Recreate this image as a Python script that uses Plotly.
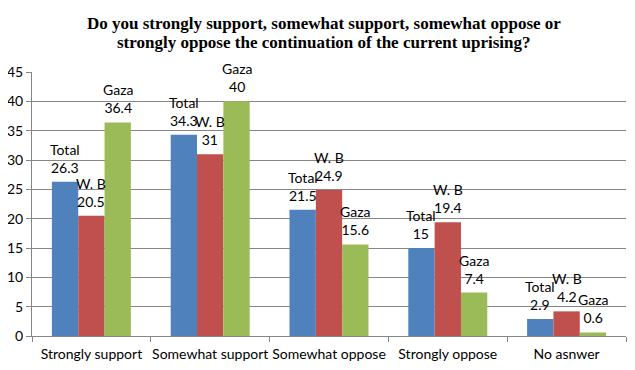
import plotly.graph_objects as go

categories = ["Strongly support", "Somewhat support", "Somewhat oppose", "Strongly oppose", "No asnwer"]
series_names = ["Total", "W. B", "Gaza"]
total_vals = [26.3, 34.3, 21.5, 15, 2.9]
wb_vals = [20.5, 31, 24.9, 19.4, 4.2]
gaza_vals = [36.4, 40, 15.6, 7.4, 0.6]
y_ticks = [0, 5, 10, 15, 20, 25, 30, 35, 40, 45]

colors = ["#4F81BD", "#C0504D", "#9BBB59"]
title_lines = ["Do you strongly support, somewhat support, somewhat oppose or",
               "strongly oppose the continuation of the current uprising?"]

# page body has an 8px default margin, so the figure is 8px smaller
W, H = 627, 362
L, R, T, B = 24, 9, 64, 34
plot_w = W - L - R
plot_h = H - T - B
BARGAP = 0.335

# pixel width of one bar (for placing labels over each bar of a group)
bar_px = plot_w / len(categories) * (1 - BARGAP) / len(series_names)

label_font = dict(family="Lato, Liberation Sans, sans-serif", size=14, color="#000000")

fig = go.Figure()
all_vals = [total_vals, wb_vals, gaza_vals]
for i, (name, vals, col) in enumerate(zip(series_names, all_vals, colors)):
    fig.add_trace(go.Bar(
        x=categories, y=vals, name=name, marker_color=col,
        marker_line_width=0,
    ))
    for cat, v in zip(categories, vals):
        fig.add_annotation(
            x=cat, y=v, xref="x", yref="y",
            text=f"{name}<br>{v:g}", showarrow=False,
            xanchor="center", yanchor="bottom",
            xshift=(i - 1) * bar_px, yshift=4,
            font=label_font,
        )

# title as two annotations for tighter line spacing
for line, py in zip(title_lines, [15, 34]):
    fig.add_annotation(
        text=f"<b>{line}</b>", xref="paper", yref="paper",
        x=0.5, y=1 + (T - py) / plot_h, xanchor="center", yanchor="middle",
        xshift=-5, showarrow=False,
        font=dict(family="Liberation Serif, serif", size=17, color="#000000"),
    )

fig.update_layout(
    width=W, height=H,
    margin=dict(l=L, r=R, t=T, b=B, autoexpand=False),
    paper_bgcolor="white", plot_bgcolor="white",
    barmode="group", bargap=BARGAP, bargroupgap=0,
    showlegend=False,
    font=dict(family="Lato, Liberation Sans, sans-serif", size=14, color="#000000"),
)
fig.update_xaxes(
    tickangle=0, tickson="boundaries", ticks="outside", ticklen=5, tickcolor="#868686",
    showline=True, linecolor="#868686", linewidth=1, showgrid=False,
    tickfont=dict(size=14), automargin=False, ticklabelstandoff=5,
)
fig.update_yaxes(
    range=[0, 45], tickvals=y_ticks, ticks="outside", ticklen=5, tickcolor="#868686",
    showline=True, linecolor="#868686", linewidth=1,
    showgrid=True, gridcolor="#868686", gridwidth=1, zeroline=False,
    tickfont=dict(size=14), automargin=False,
)
fig.write_html("out.html")
